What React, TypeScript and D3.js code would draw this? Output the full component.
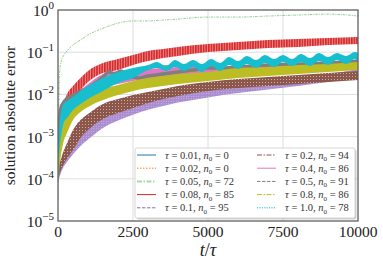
import React from 'react';
import * as d3 from 'd3';

// shared time samples (t/tau) for the band envelopes
const T = [0, 50, 100, 200, 300, 500, 750, 1000, 1500, 2000, 2500, 3000, 3500, 4000, 5000, 6000, 7000, 8000, 9000, 10000];

const greenErr = [3.2e-5, 0.029, 0.058, 0.086, 0.107, 0.148, 0.195, 0.256, 0.37, 0.49, 0.55, 0.55, 0.58, 0.61, 0.68, 0.68, 0.72, 0.76, 0.8, 0.72];

const redLo = [1e-4, 4.8e-4, 1.09e-3, 2.47e-3, 3.83e-3, 7.36e-3, 0.0127, 0.0197, 0.0322, 0.0379, 0.0497, 0.0618, 0.0729, 0.0813, 0.101, 0.113, 0.126, 0.133, 0.148, 0.157];
const redHi = [2.1e-4, 1.43e-3, 3.25e-3, 6.61e-3, 0.0102, 0.0158, 0.0245, 0.0359, 0.0555, 0.069, 0.0859, 0.107, 0.119, 0.133, 0.157, 0.175, 0.195, 0.206, 0.217, 0.229];

const purpleLo = [8e-5, 1.1e-4, 1.4e-4, 2e-4, 2.5e-4, 3.8e-4, 6e-4, 8.5e-4, 1.6e-3, 2.4e-3, 3.3e-3, 4.3e-3, 5.3e-3, 6.4e-3, 8.5e-3, 0.0108, 0.013, 0.0158, 0.0197, 0.0245];
const purpleHi = [1.2e-4, 1.8e-4, 2.4e-4, 3.4e-4, 4.5e-4, 6.8e-4, 1.1e-3, 1.6e-3, 2.8e-3, 4e-3, 5.5e-3, 7e-3, 8.5e-3, 0.01, 0.013, 0.0165, 0.0197, 0.0245, 0.03, 0.04];

const brownLo = [9e-5, 1.3e-4, 1.6e-4, 2.3e-4, 3e-4, 4.8e-4, 9.3e-4, 1.43e-3, 2.61e-3, 3.62e-3, 4.76e-3, 6.25e-3, 7.78e-3, 9.17e-3, 0.0121, 0.0142, 0.0158, 0.0176, 0.0197, 0.0219];
const brownHi = [1.3e-4, 2.2e-4, 3e-4, 4.8e-4, 7e-4, 1.43e-3, 2.47e-3, 3.43e-3, 5.93e-3, 7.78e-3, 9.68e-3, 0.0114, 0.0134, 0.0158, 0.0197, 0.0232, 0.0258, 0.0288, 0.0322, 0.0359];

const pinkLo = [1e-4, 4.8e-4, 8.3e-4, 1.88e-3, 2.76e-3, 4.27e-3, 6.61e-3, 9e-3, 0.0142, 0.0176, 0.0208, 0.0232, 0.0245, 0.0258, 0.0304, 0.034, 0.036, 0.04, 0.044, 0.048];
const pinkHi = [1.6e-4, 1.43e-3, 2.76e-3, 4.76e-3, 6.25e-3, 8.67e-3, 0.0127, 0.0176, 0.0304, 0.0359, 0.0379, 0.04, 0.0423, 0.0446, 0.0497, 0.045, 0.047, 0.05, 0.052, 0.055];

const oliveLo = [1e-4, 2.1e-4, 3.7e-4, 8.3e-4, 1.22e-3, 2.47e-3, 3.83e-3, 5.03e-3, 7.36e-3, 9.68e-3, 0.0121, 0.0142, 0.0158, 0.0176, 0.0208, 0.0245, 0.0273, 0.0304, 0.034, 0.0379];
const oliveHi = [1.5e-4, 8.3e-4, 1.43e-3, 2.47e-3, 3.08e-3, 4.76e-3, 6.98e-3, 9.17e-3, 0.0134, 0.0167, 0.0208, 0.0245, 0.0273, 0.0304, 0.034, 0.0423, 0.0446, 0.0497, 0.0525, 0.0586];

// cyan band (tau = 1.0) is wavy, so it gets denser samples
const cyanT = [0, 50, 100, 200, 300, 500, 750, 1000, 1500, 2000, 2500, 3000, 3300, 3600, 3900, 4200, 4500, 4800, 5100, 5400, 5700, 6000, 6300, 6600, 6900, 7200, 7500, 7800, 8100, 8400, 8700, 9000, 9300, 9600, 9900, 10000];
const cyanLo = [1e-4, 4.8e-4, 9.8e-4, 2.22e-3, 2.76e-3, 4.27e-3, 5.9e-3, 7.8e-3, 0.0121, 0.0186, 0.0245,
  0.0379, 0.0423, 0.0359, 0.0446, 0.0359, 0.0446, 0.034, 0.0471, 0.0359, 0.0497, 0.04, 0.0525, 0.0423, 0.0555, 0.0446, 0.0586, 0.0471, 0.0586, 0.0471, 0.0618, 0.0497, 0.0653, 0.0525, 0.069, 0.0618];
const cyanHi = [1.6e-4, 1.88e-3, 3.83e-3, 6.25e-3, 6.98e-3, 8.67e-3, 0.0121, 0.0158, 0.0245, 0.034, 0.0423,
  0.0497, 0.0586, 0.0471, 0.0653, 0.0525, 0.0653, 0.0525, 0.069, 0.0555, 0.0769, 0.0618, 0.0813, 0.0653, 0.0859, 0.069, 0.0859, 0.069, 0.0907, 0.0729, 0.0958, 0.0769, 0.0958, 0.0813, 0.101, 0.0958];

// gray line (tau = 0.5) has its own samples, it is bumpy
const grayT = [0, 30, 60, 100, 200, 400, 700, 1000, 1300, 1500, 1700, 1900, 2100, 2300, 2500, 2700, 3000, 3500, 4000, 4500, 5000, 5500, 6000, 6500, 7000, 8000, 9000, 10000];
const grayErr = [1.23e-4, 8.3e-4, 2.76e-3, 4.76e-3, 6.61e-3, 8.67e-3, 0.0114, 0.0142, 0.0197, 0.0258, 0.034, 0.0304, 0.0359, 0.0273, 0.0258, 0.0245, 0.0273, 0.0304, 0.034, 0.0379, 0.0423, 0.0423, 0.0446, 0.0471, 0.0497, 0.0525, 0.0555, 0.0618];

// tau = 0.01 / 0.02 sit underneath the other bands
const hiddenT = [0, 100, 500, 1500, 3000, 5000, 7500, 10000];
const blueErr = [1e-4, 2e-3, 6e-3, 0.017, 0.045, 0.05, 0.065, 0.075];
const orangeErr = [1e-4, 1.8e-3, 5.5e-3, 0.016, 0.046, 0.051, 0.066, 0.076];

const taus = ['0.01', '0.02', '0.05', '0.08', '0.1', '0.2', '0.4', '0.5', '0.8', '1.0'];
const n0s = ['0', '0', '72', '85', '95', '94', '86', '91', '86', '78'];
const colors = ['#1f77b4', '#ff7f0e', '#2ca02c', '#d62728', '#9467bd', '#8c564b', '#e377c2', '#7f7f7f', '#bcbd22', '#17becf'];
const dashes = ['', '1.5,1.5', '5,1.5,1.5,1.5', '', '3.5,1.5', '5,1.5,1.5,1.5', '', '3.5,1.5', '5,1.5,1.5,1.5', '1.2,1.2'];

const xTicks = [0, 2500, 5000, 7500, 10000];
const yExps = [0, -1, -2, -3, -4, -5];

const W = 383;
const H = 266;
const margin = { left: 58, right: 25, top: 10, bottom: 45 };

export default function App() {
  const x = d3.scaleLinear().domain([0, 10000]).range([margin.left, W - margin.right]);
  const y = d3.scaleLog().domain([1e-5, 1]).range([H - margin.bottom, margin.top]);

  const band = (ts: number[], lo: number[], hi: number[]) =>
    d3.area<number>()
      .x((t) => x(t))
      .y0((_, i) => y(lo[i]))
      .y1((_, i) => y(hi[i]))
      .curve(d3.curveMonotoneX)(ts);

  const line = (ts: number[], vs: number[]) =>
    d3.line<number>()
      .x((_, i) => x(ts[i]))
      .y((v) => y(v))
      .curve(d3.curveMonotoneX)(vs);

  const serif = '"Liberation Serif", "DejaVu Serif", serif';
  const [x0, x1] = x.range();
  const [yb, yt] = y.range();

  const legX = [137, 257];
  const legY0 = 155;
  const legDy = 13.2;

  return (
    <svg width={W} height={H} style={{ position: 'absolute', left: 0, top: 0, fontFamily: serif }}>
      <defs>
        <clipPath id="plot">
          <rect x={x0} y={yt} width={x1 - x0} height={yb - yt} />
        </clipPath>
        <pattern id="redHatch" width="2.6" height="4" patternUnits="userSpaceOnUse">
          <rect width="2.6" height="4" fill="#ee8d8e" />
          <rect width="1.6" height="4" fill="#d62728" />
        </pattern>
        <pattern id="brownDots" width="3" height="3" patternUnits="userSpaceOnUse">
          <rect width="3" height="3" fill="#8c564b" />
          <rect x="1" y="1" width="0.9" height="0.9" fill="#d8c2bd" />
        </pattern>
        <pattern id="purpleDots" width="2.5" height="2.5" patternUnits="userSpaceOnUse">
          <rect width="2.5" height="2.5" fill="#a98bcf" />
          <rect x="1" y="1" width="0.8" height="0.8" fill="#e8def3" />
        </pattern>
      </defs>

      {/* grid */}
      {yExps.map((e) => (
        <line key={'gy' + e} x1={x0} x2={x1} y1={y(10 ** e)} y2={y(10 ** e)} stroke="#dedede" strokeWidth={1} />
      ))}
      {xTicks.map((t) => (
        <line key={'gx' + t} x1={x(t)} x2={x(t)} y1={yt} y2={yb} stroke="#dedede" strokeWidth={1} />
      ))}

      <g clipPath="url(#plot)">
        <path d={line(hiddenT, blueErr) || ''} fill="none" stroke={colors[0]} strokeWidth={1} />
        <path d={line(hiddenT, orangeErr) || ''} fill="none" stroke={colors[1]} strokeWidth={1} strokeDasharray={dashes[1]} />
        <path d={line(T, greenErr) || ''} fill="none" stroke={colors[2]} strokeOpacity={0.65} strokeWidth={0.8} strokeDasharray="2.5,1,1,1" />
        <path d={band(T, redLo, redHi) || ''} fill="url(#redHatch)" />
        <path d={band(T, purpleLo, purpleHi) || ''} fill="url(#purpleDots)" />
        <path d={band(T, brownLo, brownHi) || ''} fill="url(#brownDots)" />
        <path d={band(T, pinkLo, pinkHi) || ''} fill={colors[6]} />
        <path d={line(grayT, grayErr) || ''} fill="none" stroke={colors[7]} strokeWidth={3.5} strokeLinejoin="round" />
        <path d={band(T, oliveLo, oliveHi) || ''} fill={colors[8]} />
        <path d={band(cyanT, cyanLo, cyanHi) || ''} fill={colors[9]} />
      </g>

      {/* frame */}
      <rect x={x0} y={yt} width={x1 - x0} height={yb - yt} fill="none" stroke="#5e5e5e" strokeWidth={1.2} />

      {/* x ticks */}
      {xTicks.map((t) => (
        <text key={'xt' + t} x={x(t)} y={yb + 16} textAnchor="middle" fontSize={15.5} fill="#222">
          {t}
        </text>
      ))}
      {/* y ticks */}
      {yExps.map((e) => (
        <text key={'yt' + e} x={x0 - 4} y={y(10 ** e) + 6} textAnchor="end" fontSize={15.5} fill="#222">
          10
          <tspan dy={-7} fontSize={11}>
            {e === 0 ? '0' : '\u2212' + -e}
          </tspan>
        </text>
      ))}

      <text x={(x0 + x1) / 2} y={H - 10} textAnchor="middle" fontSize={18} fontStyle="italic" fill="#222">
        t<tspan fontStyle="normal">/</tspan>τ
      </text>
      <text transform={`translate(15, ${(yt + yb) / 2}) rotate(-90)`} textAnchor="middle" fontSize={15.5} fill="#222">
        solution absolute error
      </text>

      {/* legend */}
      <rect x={136.5} y={149.5} width={220} height={70} rx={2} fill="#000" fillOpacity={0.18} />
      <rect x={135} y={148} width={220} height={70} rx={2} fill="#fff" stroke="#cccccc" strokeWidth={0.8} />
      {taus.map((tau, i) => {
        const col = Math.floor(i / 5);
        const row = i % 5;
        const lx = legX[col];
        const ly = legY0 + row * legDy;
        return (
          <g key={'lg' + i}>
            <line
              x1={lx}
              x2={lx + 19}
              y1={ly}
              y2={ly}
              stroke={colors[i]}
              strokeWidth={i === 2 ? 2 : 1}
              strokeOpacity={i === 2 ? 0.4 : 1}
              strokeDasharray={dashes[i]}
            />
            <text x={lx + 28} y={ly + 3.5} fontSize={10.5} fill="#333">
              <tspan fontStyle="italic">τ</tspan> = {tau}, <tspan fontStyle="italic">n</tspan>
              <tspan dy={2.5} fontSize={7}>0</tspan>
              <tspan dy={-2.5}> = {n0s[i]}</tspan>
            </text>
          </g>
        );
      })}
    </svg>
  );
}
